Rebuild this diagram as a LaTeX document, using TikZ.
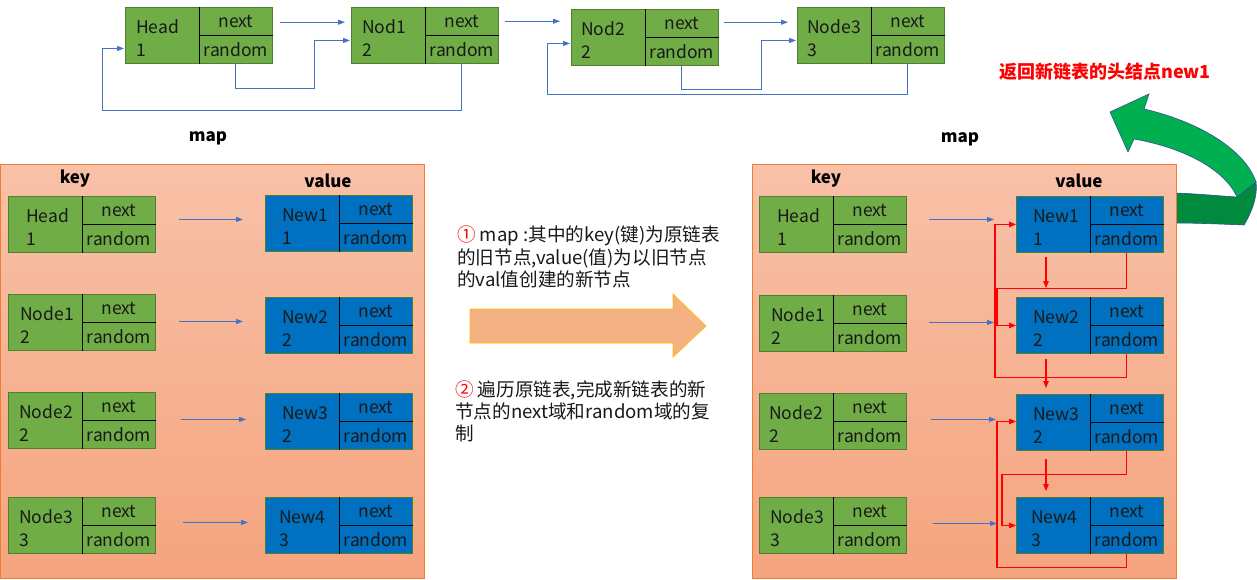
\documentclass[tikz,border=0pt]{standalone}
\usepackage{fontspec}
\setmainfont{Noto Sans CJK SC}
\usetikzlibrary{arrows.meta,calc}
\definecolor{gfill}{RGB}{112,173,71}
\definecolor{gdraw}{RGB}{80,126,50}
\definecolor{bfill}{RGB}{0,112,192}
\definecolor{larrow}{RGB}{68,114,196}
\definecolor{mapt}{RGB}{248,193,168}
\definecolor{mapb}{RGB}{245,164,126}
\definecolor{mapd}{RGB}{237,125,49}
\definecolor{bigarr}{RGB}{244,177,131}
\definecolor{bigarrd}{RGB}{255,192,0}
\definecolor{grlight}{RGB}{0,176,80}
\definecolor{grdark}{RGB}{0,138,62}
\definecolor{gredge}{RGB}{47,82,143}
\definecolor{txt}{RGB}{25,25,25}
\tikzset{
 cellbox/.style={draw=gdraw, line width=0.9pt, minimum width=147pt, minimum height=56pt, anchor=north west, inner sep=0pt},
 celltxt/.style={font=\fontsize{17.5}{23}\selectfont, text=txt, inner sep=0pt},
 labtxt/.style={celltxt, align=left, anchor=west},
 barrow/.style={draw=larrow, line width=0.9pt, -{Triangle[length=7pt,width=5pt]}},
 rarrow/.style={draw=red, line width=1.1pt, -{Triangle[length=7pt,width=5.5pt]}},
 mapbox/.style={draw=mapd, line width=1pt, top color=mapt, bottom color=mapb, anchor=north west, minimum width=424pt, minimum height=414pt, inner sep=0pt},
 headtxt/.style={font=\fontsize{17}{20}\selectfont\bfseries, text=black, inner sep=0pt},
 midtxt/.style={font=\fontsize{18.6}{22}\selectfont, text=txt, anchor=base west, inner sep=0pt},
}
\newcommand\cellnode[7]{%
  \node[cellbox, fill=#4] (#1) at (#2,#3) {};
  \draw[black, line width=0.8pt] (#1.north) -- (#1.south);
  \draw[black, line width=0.8pt] (#1.center) -- (#1.east);
  \node[labtxt] (#1-k) at ($(#1.west)+(#7,3)$) {#5\\#6};
  \node[celltxt] (#1-n) at ($(#1.north)!0.5!(#1.east)$) {next};
  \node[celltxt] (#1-r) at ($(#1.center)!0.5!(#1.south east)$) {random};
}
\begin{document}
\begin{tikzpicture}[x=1pt,y=-1pt]
\useasboundingbox (0,0) rectangle (1257,580);
\fill[white] (0,0) rectangle (1257,580);

% green return arrow
\fill[grdark] (1165,193) -- (1176,193) .. controls (1200,194) and (1220,196) .. (1237,197) -- (1256,182) .. controls (1258,195) and (1252,212) .. (1244,225) .. controls (1220,224) and (1195,223) .. (1176,223) -- (1165,223) -- cycle;
\draw[gredge, line width=0.6pt] (1176,193) .. controls (1200,194) and (1220,196) .. (1237,197) -- (1256,182) .. controls (1258,195) and (1252,212) .. (1244,225) .. controls (1220,224) and (1195,223) .. (1176,223);
\filldraw[fill=grlight, draw=gredge, line width=0.6pt] (1237,197) .. controls (1225,170) and (1185,148) .. (1134,139) -- (1128,152) -- (1110,112) -- (1149,94) -- (1144,109) .. controls (1200,122) and (1245,150) .. (1256,182) -- cycle;

% top linked list
\cellnode{head}{125}{7}{gfill}{Head}{1}{11}
\cellnode{nod1}{351}{7}{gfill}{Nod1}{2}{11}
\cellnode{nod2}{571}{9}{gfill}{Nod2}{2}{10}
\cellnode{node3}{797}{7}{gfill}{Node3}{3}{10}

\draw[barrow] ($(head.east |- head-n)+(7,1)$) -- ($(nod1.west |- head-n)+(-6,1)$);
\draw[barrow] ($(nod1.east |- nod1-n)+(6,0)$) -- ($(nod2.west |- nod1-n)+(-11,0)$);
\draw[barrow] ($(nod2.east |- nod2-n)+(5,-1)$) -- ($(node3.west |- nod2-n)+(-9,-1)$);
\draw[barrow] (head-r |- head.south) -- ++(0,25) -| ($(nod1.west)+(-37,5)$) -- ($(nod1.west)+(-1,5)$);
\draw[barrow] (nod1-r |- nod1.south) -- ++(0,47) -| ($(head.west)+(-23,13)$) -- ($(head.west)+(-1,13)$);
\draw[barrow] (nod2-r |- nod2.south) -- ++(0,24) -| ($(node3.west)+(-36,5)$) -- ($(node3.west)+(-1,5)$);
\draw[barrow] (node3-r |- node3.south) -- ++(0,31) -| ($(nod2.west)+(-24,6)$) -- ($(nod2.west)+(-1,6)$);

% red title
\node[font=\fontsize{18}{20}\selectfont\bfseries, text=red, inner sep=0pt] (ret) at (1105,72) {返回新链表的头结点new1};

% map labels
\node[headtxt] (lmaplab) at (208,138) {map};
\node[headtxt] (rmaplab) at (960,139) {map};

% left map
\node[mapbox] (lmap) at (0,164) {};
\node[headtxt] (lkey) at (75,179) {key};
\node[headtxt] (lval) at (328,181) {value};
\cellnode{lk1}{8}{196}{gfill}{Head}{1}{18}
\cellnode{lk2}{8}{294}{gfill}{Node1}{2}{12}
\cellnode{lk3}{8}{392}{gfill}{Node2}{2}{11}
\cellnode{lk4}{8}{497}{gfill}{Node3}{3}{11}
\cellnode{lv1}{265}{195}{bfill}{New1}{1}{17}
\cellnode{lv2}{265}{297}{bfill}{New2}{2}{17}
\cellnode{lv3}{265}{393}{bfill}{New3}{2}{17}
\cellnode{lv4}{265}{497}{bfill}{New4}{3}{14}
\draw[barrow] ($(lk1.east)+(23,-5)$) -- ($(lk1.east -| lv1.west)+(-22,-5)$);
\draw[barrow] ($(lk2.east)+(23,-1)$) -- ($(lk2.east -| lv2.west)+(-22,-1)$);
\draw[barrow] ($(lk3.east)+(25,-1)$) -- ($(lk3.east -| lv3.west)+(-19,-1)$);
\draw[barrow] ($(lk4.east)+(27,-3)$) -- ($(lk4.east -| lv4.west)+(-17,-3)$);

% middle explanation
\node[midtxt] (t1a) at (457,241) {\textcolor{red}{①} map :其中的key(键)为原链表};
\node[midtxt] (t1b) at (457,264) {的旧节点,value(值)为以旧节点};
\node[midtxt] (t1c) at (457,286) {的val值创建的新节点};
\node[midtxt] (t2a) at (455,396) {\textcolor{red}{②} 遍历原链表,完成新链表的新};
\node[midtxt] (t2b) at (455,418) {节点的next域和random域的复};
\node[midtxt] (t2c) at (455,440) {制};
\filldraw[fill=bigarr, draw=bigarrd, line width=0.7pt] (470,309) -- (673,309) -- (673,294) -- (706,326) -- (673,357) -- (673,343) -- (470,343) -- cycle;

% right map
\node[mapbox] (rmap) at (752,164) {};
\node[headtxt] (rkey) at (826,179) {key};
\node[headtxt] (rval) at (1079,181) {value};
\cellnode{rk1}{759}{196}{gfill}{Head}{1}{18}
\cellnode{rk2}{759}{295}{gfill}{Node1}{2}{12}
\cellnode{rk3}{759}{393}{gfill}{Node2}{2}{10}
\cellnode{rk4}{759}{497}{gfill}{Node3}{3}{11}
\cellnode{rv1}{1016}{196}{bfill}{New1}{1}{17}
\cellnode{rv2}{1016}{297}{bfill}{New2}{2}{17}
\cellnode{rv3}{1016}{394}{bfill}{New3}{2}{17}
\cellnode{rv4}{1016}{497}{bfill}{New4}{3}{15}
\draw[barrow] ($(rk1.east)+(22,-5)$) -- ($(rk1.east -| rv1.west)+(-22,-5)$);
\draw[barrow] ($(rk2.east)+(22,-1)$) -- ($(rk2.east -| rv2.west)+(-22,-1)$);
\draw[barrow] ($(rk3.east)+(24,-2)$) -- ($(rk3.east -| rv3.west)+(-20,-2)$);
\draw[barrow] ($(rk4.east)+(26,-2)$) -- ($(rk4.east -| rv4.west)+(-19,-2)$);

% red next / random links
\draw[rarrow] ($(rv1.south west)+(30,4)$) -- ($(rv2.north west)+(30,-9)$);
\draw[rarrow] ($(rv2.south west)+(30,5)$) -- ($(rv3.north west)+(30,-6)$);
\draw[rarrow] ($(rv3.south west)+(30,8)$) -- ($(rv4.north west)+(30,-6)$);
\draw[rarrow] (rv1-r |- rv1.south) -- ++(0,36) -| ($(rv2.west)+(-19,0)$) -- (rv2.west);
\draw[rarrow] (rv2-r |- rv2.south) -- ++(0,24) -| ($(rv1.west)+(-21,0)$) -- (rv1.west);
\draw[rarrow] (rv3-r |- rv3.south) -- ++(0,24) -| ($(rv4.west)+(-14,0)$) -- (rv4.west);
\draw[rarrow] (rv4-r |- rv4.south) -- ++(0,14) -| ($(rv3.west)+(-19,-1)$) -- ($(rv3.west)+(0,-1)$);
\end{tikzpicture}
\end{document}
